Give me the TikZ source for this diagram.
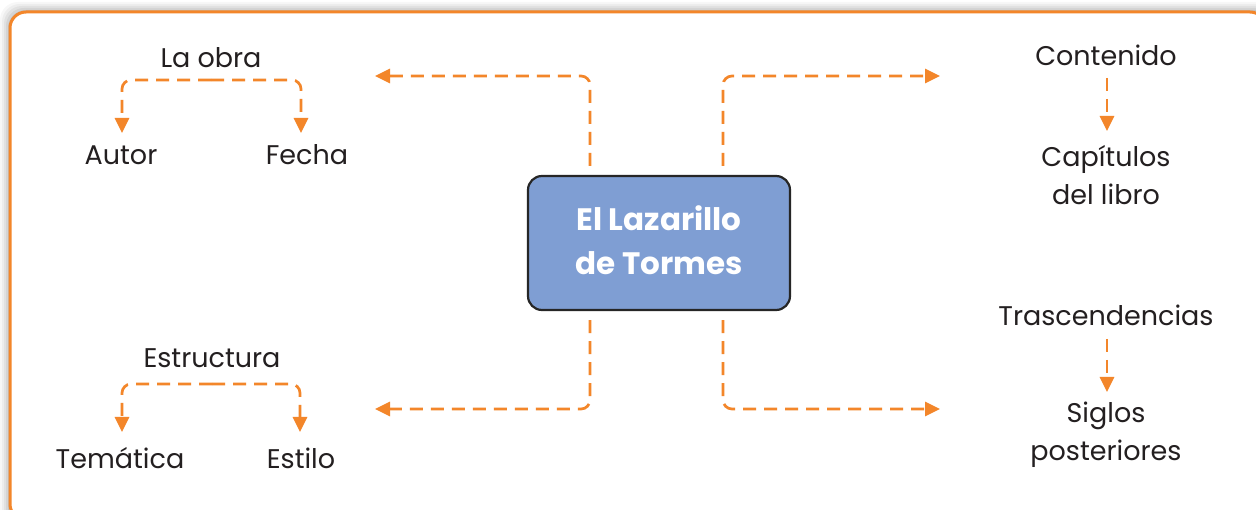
\documentclass[tikz,border=0pt]{standalone}
\usepackage{fontspec}
\setmainfont{Poppins}
\usetikzlibrary{arrows.meta}
\definecolor{org}{HTML}{F3862A}
\definecolor{boxblue}{HTML}{7F9ED3}
\definecolor{txt}{HTML}{231F20}
\begin{document}
\begin{tikzpicture}[x=1pt,y=-1pt,
  lab/.style={text=txt,font=\fontsize{27}{38}\selectfont,align=center,inner sep=0pt},
  conn/.style={draw=org,line width=2.7pt,dash pattern=on 13pt off 8pt,rounded corners=9pt,
    -{Triangle[length=15pt,width=14pt]}}
]
\useasboundingbox (0,0) rectangle (1256,510);
\clip (0,0) rectangle (1256,510);
% shadow
\foreach \i/\o in {10/0.03,8/0.04,6/0.05,4/0.06,2/0.08} {
  \fill[black,opacity=\o,rounded corners=18pt] (10-\i,12-\i) rectangle (1280,530);
}
\filldraw[fill=white,draw=org,line width=3pt,rounded corners=16pt] (10,12) rectangle (1266,520);

% centre
\node[draw=black!85,line width=2.2pt,fill=boxblue,rounded corners=14pt,minimum width=262pt,minimum height=134pt,
  text=white,font=\fontsize{31}{44}\selectfont\bfseries,align=center,text depth=6pt] (box) at (659,243) {El Lazarillo\\de Tormes};

% labels
\node[lab] (obra) at (211,58) {La obra};
\node[lab] (autor) at (121,155) {Autor};
\node[lab] (fecha) at (307,155) {Fecha};
\node[lab] (estr) at (212,358) {Estructura};
\node[lab] (tema) at (120,458) {Temática};
\node[lab] (estilo) at (301,458) {Estilo};
\node[lab] (cont) at (1106,55) {Contenido};
\node[lab] (cap) at (1106,175) {Capítulos\\del libro};
\node[lab] (tras) at (1106,315) {Trascendencias};
\node[lab] (sig) at (1106,435) {Siglos\\posteriores};

% coordinates
\coordinate (obraB) at (211,80);
\coordinate (estrB) at (212,384);
\coordinate (autorT) at (122,133);
\coordinate (fechaT) at (301,133);
\coordinate (temaT) at (122,432);
\coordinate (estiloT) at (300,432);
\coordinate (contS) at (1107,78);
\coordinate (capT) at (1107,131);
\coordinate (trasS) at (1107,339);
\coordinate (sigT) at (1107,392);
\coordinate (tTL) at (375,76);
\coordinate (tTR) at (940,76);
\coordinate (tBL) at (375,409);
\coordinate (tBR) at (940,409);

% brackets
\draw[conn] (obraB) -| (autorT);
\draw[conn] (obraB) -| (fechaT);
\draw[conn] (estrB) -| (temaT);
\draw[conn] (estrB) -| (estiloT);

% vertical arrows right
\draw[conn] (contS) -- (capT);
\draw[conn] (trasS) -- (sigT);

% main connectors
\draw[conn] ([xshift=-69pt,yshift=9pt]box.north) |- (tTL);
\draw[conn] ([xshift=64pt,yshift=9pt]box.north) |- (tTR);
\draw[conn] ([xshift=-69pt,yshift=-9pt]box.south) |- (tBL);
\draw[conn] ([xshift=64pt,yshift=-9pt]box.south) |- (tBR);
\end{tikzpicture}
\end{document}
